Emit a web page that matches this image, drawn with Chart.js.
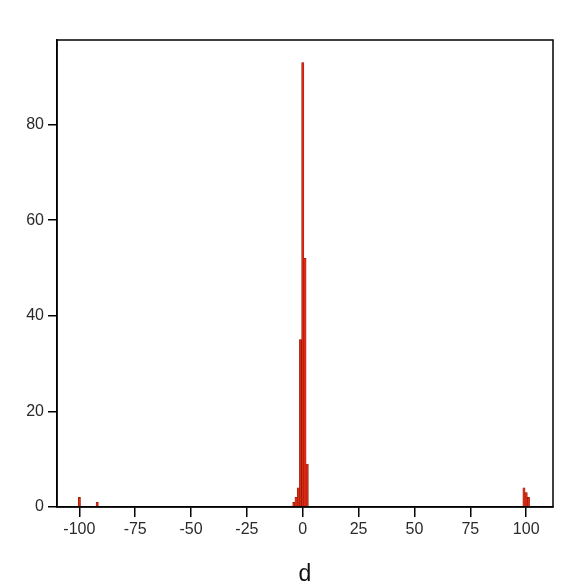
<!DOCTYPE html>
<html>
<head>
<meta charset="utf-8">
<script src="https://cdn.jsdelivr.net/npm/chart.js@4/dist/chart.umd.min.js"></script>
<style>
html,body{margin:0;padding:0;background:#fff;}
#wrap{width:581px;height:585px;position:relative;}
</style>
</head>
<body>
<div id="wrap"><canvas id="c" width="581" height="585"></canvas></div>
<script>
// bin centres (d) and counts
const binCenters = [-100, -92, -4, -3, -2, -1, 0, 1, 2, 99, 100, 101];
const counts     = [2, 1, 1, 2, 4, 35, 93, 52, 9, 4, 3, 2];
const xTickValues = [-100, -75, -50, -25, 0, 25, 50, 75, 100];
const yTickValues = [0, 20, 40, 60, 80];
const xTitle = 'd';

const pts = binCenters.map((x, i) => ({x: x, y: counts[i]}));

const boxPlugin = {
  id: 'box',
  afterDraw(chart) {
    const a = chart.chartArea, ctx = chart.ctx;
    ctx.save();
    ctx.strokeStyle = '#000';
    ctx.lineWidth = 1.5;
    ctx.strokeRect(a.left, a.top, a.right - a.left, a.bottom - a.top);
    ctx.restore();
  }
};

new Chart(document.getElementById('c'), {
  type: 'bar',
  data: {
    datasets: [{
      data: pts,
      backgroundColor: '#dd2a12',
      borderColor: '#7a1000',
      borderWidth: 0.5,
      barPercentage: 1,
      categoryPercentage: 1
    }]
  },
  options: {
    responsive: false,
    animation: false,
    layout: {padding: {left: 0, top: 40, right: 28, bottom: 0}},
    plugins: {legend: {display: false}, tooltip: {enabled: false}},
    scales: {
      x: {
        type: 'linear',
        offset: false,
        min: -110,
        max: 112,
        afterBuildTicks(scale) { scale.ticks = xTickValues.map(v => ({value: v})); },
        afterFit(scale) { scale.height = 78; },
        grid: {display: true, offset: false, drawOnChartArea: false, drawTicks: true, tickLength: 10, color: '#000', lineWidth: 1.5},
        border: {display: true, color: '#000', width: 1.5},
        ticks: {font: {family: 'Liberation Sans, Arial', size: 16}, color: '#2a2a2a', padding: 3, maxRotation: 0,
                callback: v => String(v)},
        title: {display: true, text: xTitle, font: {family: 'Liberation Sans, Arial', size: 23}, color: '#111', padding: {top: 0, bottom: -3}}
      },
      y: {
        type: 'linear',
        min: 0,
        max: 97.7,
        afterBuildTicks(scale) { scale.ticks = yTickValues.map(v => ({value: v})); },
        afterFit(scale) { scale.width = 57; },
        grid: {display: true, drawOnChartArea: false, drawTicks: true, tickLength: 9, color: '#000', lineWidth: 1.5},
        border: {display: true, color: '#000', width: 1.5},
        ticks: {font: {family: 'Liberation Sans, Arial', size: 16}, color: '#2a2a2a', padding: 4,
                callback: v => String(v)}
      }
    }
  },
  plugins: [boxPlugin]
});
</script>
</body>
</html>
